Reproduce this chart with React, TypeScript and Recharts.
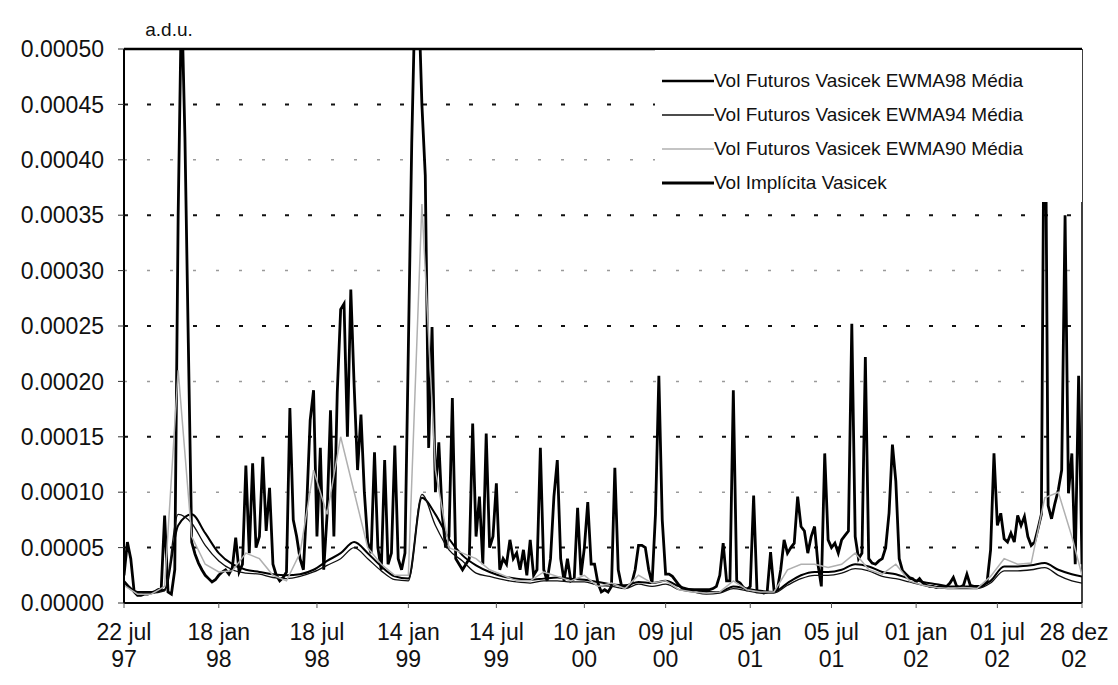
import React from 'react';
import { LineChart, Line, XAxis, YAxis, ReferenceLine, Legend } from 'recharts';

// x axis: observation index (one reading every ~3.4 px of the original plot)
const xLabels = [
  '22 jul 97', '18 jan 98', '18 jul 98', '14 jan 99', '14 jul 99', '10 jan 00',
  '09 jul 00', '05 jan 01', '05 jul 01', '01 jan 02', '01 jul 02', '28 dez 02',
];
const xLabelIdx = [0, 28, 57, 84, 110, 136, 160, 185, 209, 234, 258, 283];

const yTicks = [0, 0.00005, 0.0001, 0.00015, 0.0002, 0.00025, 0.0003, 0.00035, 0.0004, 0.00045, 0.0005];
const gridDark = [0.00005, 0.00015, 0.00025, 0.00035, 0.00045];
const gridLight = [0.0001, 0.0002, 0.0003, 0.0004];

// all values below in units of 1e-5 a.d.u.
const implicita = [
  2.5, 5.5, 4.0, 1.0, 0.7, 0.7, 0.8, 0.8, 0.9, 1.0,
  1.2, 1.3, 7.9, 1.0, 0.8, 3.0, 35, 55, 42, 23.5,
  5.5, 4.4, 3.6, 3.0, 2.5, 2.2, 1.9, 2.1, 2.5, 2.8,
  3.0, 2.6, 3.2, 5.9, 2.8, 3.5, 12.4, 4.5, 12.6, 5.0,
  6.0, 13.2, 6.5, 10.4, 3.5, 2.5, 2.0, 2.3, 2.8, 17.6,
  7.5, 6.0, 4.0, 3.0, 9.0, 16.5, 19.2, 6.0, 14.0, 3.0,
  8.0, 17.4, 6.0, 19.0, 26.5, 27.0, 15.0, 28.3, 19.5, 12.0,
  17.0, 10.0, 5.5, 4.5, 13.6, 5.0, 3.0, 12.9, 3.5, 4.5,
  14.2, 4.0, 3.0, 4.5, 23.0, 41.5, 55, 55, 45, 38.6,
  14.0, 24.9, 10.0, 14.5, 8.0, 5.0, 6.0, 18.5, 4.0, 3.5,
  3.0, 3.5, 4.0, 16.2, 6.0, 9.6, 3.5, 15.3, 5.0, 6.0,
  10.8, 3.0, 4.0, 3.5, 5.7, 4.0, 4.5, 3.0, 4.8, 2.5,
  5.7, 2.5, 3.0, 14.0, 3.0, 2.0, 4.0, 9.6, 12.9, 4.0,
  2.0, 4.0, 2.0, 2.2, 8.6, 2.5, 5.0, 9.1, 3.5, 3.5,
  1.8, 1.0, 1.2, 1.0, 1.5, 12.2, 3.0, 1.5, 1.5, 1.5,
  1.8, 3.0, 5.2, 5.2, 5.0, 3.0, 1.8, 8.0, 20.5, 7.5,
  2.6, 2.6, 2.4, 2.0, 1.6, 1.3, 1.2, 1.2, 1.2, 1.2,
  1.2, 1.2, 1.2, 1.2, 1.3, 1.5, 2.5, 5.4, 2.0, 2.0,
  19.2, 2.0, 1.8, 1.4, 1.2, 1.5, 9.7, 1.0, 1.0, 0.9,
  1.0, 4.6, 1.2, 1.2, 3.0, 5.7, 4.5, 5.0, 5.4, 9.6,
  6.9, 6.5, 4.5, 6.0, 6.9, 3.5, 1.5, 13.5, 5.7, 5.0,
  5.4, 4.5, 5.7, 6.1, 6.5, 25.2, 6.0, 4.0, 4.5, 22.2,
  4.0, 3.6, 3.5, 3.8, 4.0, 5.0, 8.1, 14.3, 11.0, 4.0,
  2.9, 2.6, 2.3, 2.2, 1.9, 2.2, 1.8, 1.6, 1.5, 1.5,
  1.4, 1.5, 1.4, 1.5, 1.8, 2.3, 1.5, 1.4, 1.6, 2.6,
  1.6, 1.5, 1.5, 1.5, 1.6, 2.0, 4.8, 13.5, 7.0, 8.1,
  5.8, 5.5, 6.3, 5.5, 7.9, 7.0, 7.8, 6.0, 5.2, 5.5,
  6.7, 8.0, 55, 8.8, 7.6, 9.0, 10.2, 12.0, 35, 9.9,
  13.5, 3.5, 20.5, 3.5,
];

// EWMA series read every 4th observation (last one at 283)
const ewma98 = [
  2.0, 1.0, 1.0, 1.2, 7.0, 8.0, 6.3, 4.5, 3.5, 3.0,
  2.8, 2.6, 2.5, 2.6, 3.0, 3.8, 4.5, 5.5, 4.5, 3.3,
  2.4, 2.2, 9.5, 8.0, 5.8, 4.3, 3.4, 2.8, 2.4, 2.2,
  2.1, 2.2, 2.3, 2.2, 2.1, 1.9, 1.7, 1.6, 1.9, 1.8,
  2.0, 1.5, 1.2, 1.0, 1.0, 1.5, 1.3, 1.1, 1.0, 1.8,
  2.5, 2.8, 2.8, 3.0, 3.5, 3.3, 2.8, 2.6, 2.2, 1.9,
  1.7, 1.5, 1.5, 1.5, 2.0, 3.3, 3.3, 3.4, 3.6, 3.0,
  2.6, 2.4,
];
const ewma94 = [
  1.8, 0.9, 0.9, 1.1, 8.0, 7.2, 5.2, 3.8, 3.0, 2.7,
  2.6, 2.3, 2.2, 2.4, 2.8, 3.4, 4.0, 5.0, 4.0, 2.9,
  2.1, 2.0, 9.8, 7.0, 4.8, 3.8, 2.7, 2.4, 2.1, 1.9,
  1.8, 2.0, 2.0, 1.9, 1.9, 1.6, 1.5, 1.3, 1.7, 1.5,
  1.7, 1.2, 1.0, 0.8, 0.9, 1.3, 1.1, 0.9, 0.9, 1.6,
  2.2, 2.5, 2.5, 2.7, 3.1, 2.9, 2.4, 2.2, 1.9, 1.6,
  1.4, 1.3, 1.3, 1.3, 1.8, 2.9, 2.9, 3.0, 3.2, 2.5,
  2.0, 1.8,
];
const ewma90 = [
  1.6, 0.8, 0.8, 1.5, 21, 6.0, 3.5, 2.8, 2.9, 4.5,
  4.0, 2.5, 2.0, 4.5, 12, 8, 15, 10, 5.0, 3.5,
  2.5, 2.5, 36, 12, 5.0, 4.5, 4.0, 3.0, 2.5, 2.0,
  2.0, 2.8, 2.4, 2.0, 2.5, 1.5, 1.8, 1.3, 2.5, 1.8,
  2.0, 1.2, 1.0, 0.9, 1.0, 2.0, 1.2, 1.0, 1.0, 3.0,
  3.5, 3.5, 3.2, 3.5, 4.5, 3.0, 2.6, 3.5, 2.0, 1.6,
  1.4, 1.3, 1.4, 1.3, 2.4, 4.0, 3.5, 3.6, 9.5, 10,
  6.0, 2.5,
];

const UNIT = 1e-5;
const ewmaIdx: number[] = [];
for (let i = 0; i <= 280; i += 4) ewmaIdx.push(i);
ewmaIdx.push(283);

const implData = implicita.map((v, i) => ({ x: i, v: v * UNIT }));
const toRows = (arr: number[]) => arr.map((v, k) => ({ x: ewmaIdx[k], v: v * UNIT }));

const legendRows = [
  { name: 'Vol Futuros Vasicek EWMA98 Média', color: '#000', w: 2.5 },
  { name: 'Vol Futuros Vasicek EWMA94 Média', color: '#111', w: 1.5 },
  { name: 'Vol Futuros Vasicek EWMA90 Média', color: '#b0b0b0', w: 1.5 },
  { name: 'Vol Implícita Vasicek', color: '#000', w: 3 },
];

const FONT = '"Liberation Sans", Arial, sans-serif';

const XTick = (props: any) => {
  const { x, y, payload } = props;
  const k = xLabelIdx.indexOf(payload.value);
  if (k < 0) return null;
  const parts = xLabels[k].split(' ');
  // the last label sits a little inside the right edge, as in the original
  const cx = k === xLabels.length - 1 ? x - 8 : x;
  return (
    <text x={cx} y={y} textAnchor="middle" fontSize={23} fill="#111" fontFamily={FONT}>
      <tspan x={cx} dy={30}>{parts[0] + ' ' + parts[1]}</tspan>
      <tspan x={cx} dy={27}>{parts[2]}</tspan>
    </text>
  );
};

const renderLegend = () => (
  <div style={{ position: 'relative', width: 427, height: 152, background: '#fff' }}>
    {legendRows.map((r, i) => (
      <div
        key={r.name}
        style={{ position: 'absolute', left: 7, top: 18 + i * 34, display: 'flex', alignItems: 'center', height: 26 }}
      >
        <svg width={52} height={10}>
          <line x1={0} x2={52} y1={5} y2={5} stroke={r.color} strokeWidth={r.w} />
        </svg>
        <span style={{ fontFamily: FONT, fontSize: 19, color: '#111', whiteSpace: 'nowrap' }}>{r.name}</span>
      </div>
    ))}
  </div>
);

export default function App() {
  return (
    <div style={{ fontFamily: FONT, background: '#fff' }}>
      <LineChart width={1110} height={669} margin={{ top: 41, right: 36, left: 0, bottom: 0 }}>
        <XAxis
          dataKey="x"
          type="number"
          domain={[0, 283]}
          ticks={xLabelIdx}
          tick={<XTick />}
          tickSize={5}
          height={74}
          axisLine={{ stroke: '#000', strokeWidth: 2 }}
          tickLine={{ stroke: '#555' }}
          allowDataOverflow
        />
        <YAxis
          type="number"
          domain={[0, 0.0005]}
          ticks={yTicks}
          allowDataOverflow
          width={116}
          tickSize={6}
          tickMargin={14}
          tickFormatter={(v: number) => v.toFixed(5)}
          tick={{ fontSize: 23, fill: '#111', fontFamily: FONT }}
          axisLine={{ stroke: '#000', strokeWidth: 2 }}
          tickLine={{ stroke: '#333' }}
        />
        {gridLight.map((v) => (
          <ReferenceLine key={'l' + v} y={v} stroke="#9a9a9a" strokeWidth={1.5} strokeDasharray="3 20" />
        ))}
        {gridDark.map((v) => (
          <ReferenceLine key={'d' + v} y={v} stroke="#111" strokeWidth={2} strokeDasharray="4 19" />
        ))}
        <ReferenceLine y={0.0005} stroke="#000" strokeWidth={2.5} />
        <ReferenceLine x={283} stroke="#000" strokeWidth={1.5} />
        <Line
          data={implData}
          dataKey="v"
          name="Vol Implícita Vasicek"
          type="linear"
          stroke="#000"
          strokeWidth={2.8}
          dot={false}
          isAnimationActive={false}
        />
        <Line
          data={toRows(ewma98)}
          dataKey="v"
          name="Vol Futuros Vasicek EWMA98 Média"
          type="monotone"
          stroke="#000"
          strokeWidth={2}
          dot={false}
          isAnimationActive={false}
        />
        <Line
          data={toRows(ewma94)}
          dataKey="v"
          name="Vol Futuros Vasicek EWMA94 Média"
          type="monotone"
          stroke="#111"
          strokeWidth={1.3}
          dot={false}
          isAnimationActive={false}
        />
        <Line
          data={toRows(ewma90)}
          dataKey="v"
          name="Vol Futuros Vasicek EWMA90 Média"
          type="linear"
          stroke="#b0b0b0"
          strokeWidth={1.5}
          dot={false}
          isAnimationActive={false}
        />
        <Legend
          layout="vertical"
          align="center"
          verticalAlign="middle"
          wrapperStyle={{ left: 647, top: 42, width: 427, height: 152 }}
          content={renderLegend}
        />
        <text x={161} y={28} textAnchor="middle" fontSize={19} fill="#111" fontFamily={FONT}>
          a.d.u.
        </text>
      </LineChart>
    </div>
  );
}
